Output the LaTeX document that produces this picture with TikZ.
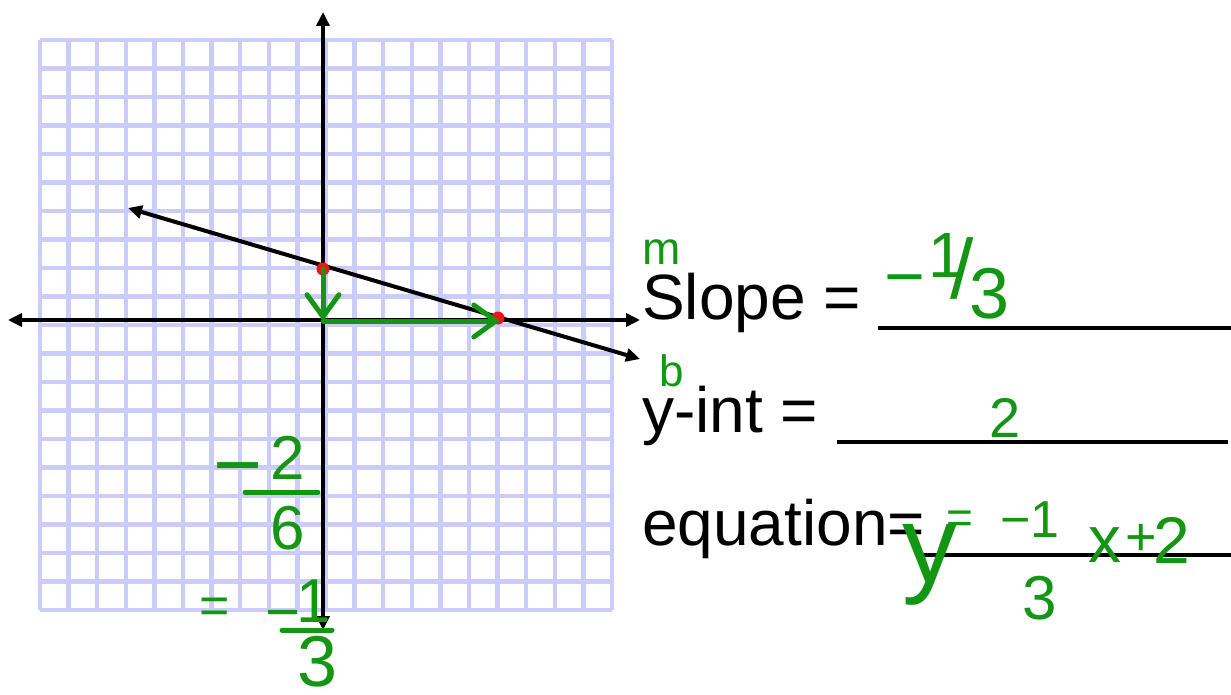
\documentclass[tikz,border=0pt]{standalone}
\usepackage{fontspec}
\setmainfont{Liberation Sans}
\usetikzlibrary{arrows.meta}
\definecolor{gridc}{RGB}{204,204,252}
\definecolor{hand}{RGB}{20,150,20}
\definecolor{dotred}{RGB}{240,20,20}
\newcommand\hsz[1]{\fontsize{#1}{#1}\selectfont}
\begin{document}
\begin{tikzpicture}[x=1pt,y=-1pt,
  gridline/.style={gridc,line width=4.5pt},
  blackarrow/.style={black,line width=4pt,{Triangle[length=14pt,width=13pt]}-{Triangle[length=14pt,width=13pt]}},
  reddot/.style={circle,fill=dotred,inner sep=0pt,minimum size=13pt},
  handline/.style={hand,line width=5pt,line cap=round,line join=round},
  handarrow/.style={handline,-{Straight Barb[length=22pt,width=32pt,line cap=round]}},
  uline/.style={black,line width=4pt},
  label/.style={anchor=base west,inner sep=0pt,font=\hsz{64}},
  handtxt/.style={text=hand,inner sep=0pt}
]
\useasboundingbox (0,0) rectangle (1231,695);
% grid
\foreach \k in {0,...,20}{
  \draw[gridline] ({40+28.6*\k},40) -- ({40+28.6*\k},610);
  \draw[gridline] (40,{40+28.5*\k}) -- (612,{40+28.5*\k});
}
% axes
\coordinate (ytop) at (323,12);
\coordinate (ybot) at (323,630);
\coordinate (xleft) at (8,320);
\coordinate (xright) at (640,320);
\draw[blackarrow] (ybot) -- (ytop);
\draw[blackarrow] (xleft) -- (xright);
% line
\coordinate (lstart) at (128,208);
\coordinate (lend) at (640,359);
\draw[blackarrow] (lstart) -- (lend);
% intercept dots
\node[reddot] (yint) at (323,269) {};
\node[reddot] (xint) at (498,318) {};
% green rise/run arrows
\coordinate (org) at (323,321);
\coordinate (runend) at (500,321);
\draw[handarrow] (yint.center) -- (org);
\draw[handarrow] (org) -- (runend);
% labels
\node[label] (slope) at (642,319) {Slope =};
\node[label] (yintl) at (642,432) {y-int =};
\node[label] (eql) at (642,545) {equation=};
\coordinate (u1a) at (878,328); \coordinate (u1b) at (1231,328);
\coordinate (u2a) at (837,442); \coordinate (u2b) at (1228,442);
\coordinate (u3a) at (923,555); \coordinate (u3b) at (1231,555);
\draw[uline] (u1a) -- (u1b);
\draw[uline] (u2a) -- (u2b);
\draw[uline] (u3a) -- (u3b);
% handwritten notes
\node[handtxt,font=\hsz{46}] (m) at (662,252) {m};
\node[handtxt,font=\hsz{44}] (b) at (672,371) {b};
% slope answer
\node[handtxt,font=\hsz{70}] (sminus) at (905,288) {−};
\node[handtxt,font=\hsz{64}] (sone) at (946,255) {1};
\node[handtxt,font=\hsz{84}] (sslash) at (962,268) {/};
\node[handtxt,font=\hsz{72}] (sthree) at (990,294) {3};
% y-int answer
\node[handtxt,font=\hsz{56}] (btwo) at (1005,418) {2};
% equation answer
\node[handtxt,font=\hsz{110}] (ey) at (930,565) {y};
\node[handtxt,font=\hsz{46}] (eeq) at (960,522) {=};
\node[handtxt,font=\hsz{52}] (efm) at (1030,520) {−1};
\node[handtxt,font=\hsz{62}] (efd) at (1040,598) {3};
\node[handtxt,font=\hsz{66}] (ex) at (1105,545) {x};
\node[handtxt,font=\hsz{54}] (eplus) at (1141,540) {+};
\node[handtxt,font=\hsz{66}] (etwo) at (1172,540) {2};
% left work
\node[handtxt,font=\hsz{84}] (lminus) at (238,478) {−};
\node[handtxt,font=\hsz{62}] (ltwo) at (288,458) {2};
\coordinate (lbara) at (245,492); \coordinate (lbarb) at (318,492);
\draw[handline] (lbara) -- (lbarb);
\node[handtxt,font=\hsz{62}] (lsix) at (288,528) {6};
\node[handtxt,font=\hsz{52}] (leq) at (215,611) {=};
\node[handtxt,font=\hsz{60}] (lm2) at (283,621) {−};
\node[handtxt,font=\hsz{62}] (lone) at (314,601) {1};
\coordinate (lbar2a) at (282,630); \coordinate (lbar2b) at (332,630);
\draw[handline] (lbar2a) -- (lbar2b);
\node[handtxt,font=\hsz{72}] (lthree) at (318,662) {3};
\end{tikzpicture}
\end{document}
